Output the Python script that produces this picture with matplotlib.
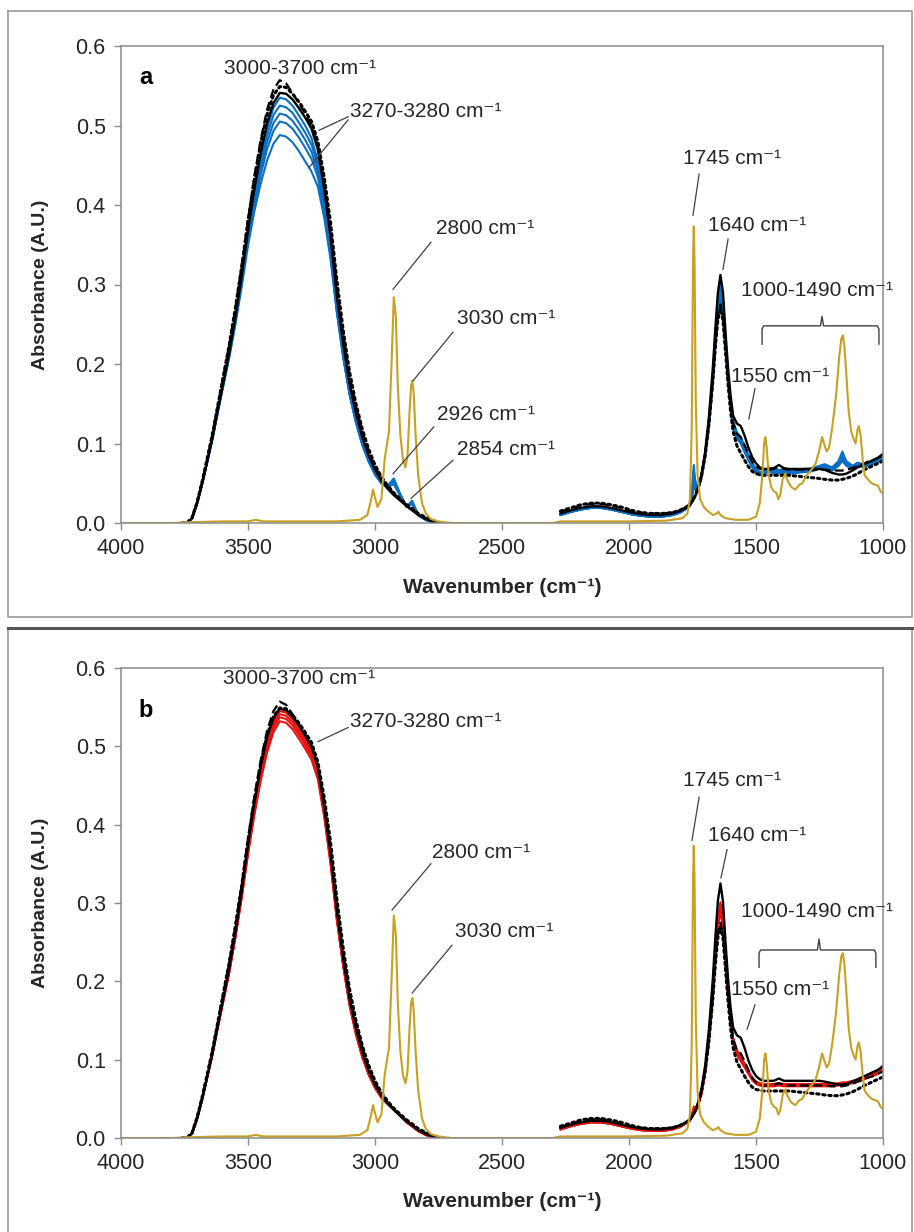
import matplotlib
matplotlib.use('Agg')
import matplotlib.pyplot as plt
from matplotlib.lines import Line2D

plt.rcParams['font.family'] = ['Liberation Sans', 'DejaVu Sans']

# ---- wavenumber grids (cm-1) ----
wn_oh = [3760, 3740, 3720, 3700, 3680, 3660, 3640, 3620, 3600, 3575, 3550, 3525, 3500, 3475,
         3450, 3425, 3400, 3375, 3350, 3325, 3300, 3275, 3250, 3225, 3200, 3175, 3150, 3125,
         3100, 3075, 3050, 3025, 3000, 2975, 2950, 2926, 2900, 2875, 2854, 2830, 2800, 2775, 2750]

wn_lo = [2270, 2230, 2190, 2150, 2110, 2070, 2030, 1990, 1950, 1910, 1870, 1830, 1800, 1775,
         1760, 1750, 1745, 1740, 1730, 1715, 1700, 1685, 1670, 1660, 1650, 1640, 1630, 1620,
         1610, 1600, 1590, 1575, 1560, 1545, 1530, 1515, 1500, 1485, 1470, 1450, 1430, 1410,
         1390, 1370, 1340, 1310, 1280, 1250, 1230, 1200, 1175, 1160, 1145, 1120, 1100, 1080,
         1060, 1040, 1020, 1000]

# ---- reference spectra (black) ----
dashed_oh = [0, 0, 0.007, 0.027, 0.053, 0.082, 0.112, 0.146, 0.180, 0.222, 0.270, 0.323, 0.382, 0.436,
             0.482, 0.520, 0.545, 0.557, 0.553, 0.541, 0.528, 0.515, 0.500, 0.475, 0.428, 0.370, 0.298, 0.236,
             0.185, 0.146, 0.115, 0.090, 0.071, 0.056, 0.045, 0.037, 0.029, 0.022, 0.017, 0.011, 0.006, 0.002, 0]
dotted_oh = [0, 0, 0.007, 0.027, 0.053, 0.082, 0.112, 0.146, 0.180, 0.222, 0.270, 0.322, 0.380, 0.432,
             0.478, 0.514, 0.538, 0.549, 0.548, 0.540, 0.530, 0.518, 0.505, 0.480, 0.435, 0.378, 0.305, 0.242,
             0.190, 0.150, 0.118, 0.093, 0.073, 0.058, 0.047, 0.038, 0.030, 0.023, 0.018, 0.012, 0.007, 0.003, 0]
dashed_lo = [0.014, 0.018, 0.022, 0.024, 0.024, 0.022, 0.019, 0.015, 0.013, 0.012, 0.012, 0.013, 0.016, 0.020,
             0.024, 0.028, 0.031, 0.034, 0.043, 0.060, 0.088, 0.128, 0.182, 0.228, 0.262, 0.275, 0.260, 0.222,
             0.183, 0.150, 0.126, 0.112, 0.108, 0.098, 0.087, 0.077, 0.071, 0.068, 0.067, 0.067, 0.068, 0.070,
             0.068, 0.067, 0.067, 0.067, 0.067, 0.067, 0.067, 0.066, 0.066, 0.066, 0.067, 0.069, 0.072, 0.074,
             0.077, 0.079, 0.082, 0.085]
dotted_lo = [0.015, 0.019, 0.023, 0.025, 0.025, 0.023, 0.020, 0.016, 0.013, 0.012, 0.012, 0.013, 0.016, 0.020,
             0.024, 0.028, 0.031, 0.034, 0.042, 0.058, 0.085, 0.125, 0.178, 0.222, 0.256, 0.270, 0.255, 0.215,
             0.175, 0.140, 0.115, 0.097, 0.088, 0.079, 0.071, 0.065, 0.062, 0.061, 0.060, 0.060, 0.060, 0.060,
             0.060, 0.060, 0.059, 0.058, 0.057, 0.056, 0.055, 0.054, 0.054, 0.055, 0.056, 0.059, 0.062, 0.066,
             0.069, 0.072, 0.075, 0.078]

# black solid, panel a
solid_a_oh = [0, 0, 0.006, 0.025, 0.050, 0.078, 0.107, 0.140, 0.172, 0.212, 0.258, 0.310, 0.368, 0.420,
              0.465, 0.503, 0.528, 0.541, 0.540, 0.533, 0.522, 0.510, 0.496, 0.470, 0.420, 0.360, 0.285, 0.225,
              0.175, 0.138, 0.108, 0.085, 0.067, 0.053, 0.043, 0.035, 0.028, 0.021, 0.016, 0.010, 0.005, 0.002, 0]
solid_a_lo = [0.012, 0.016, 0.019, 0.021, 0.021, 0.019, 0.016, 0.013, 0.011, 0.010, 0.010, 0.012, 0.015, 0.019,
              0.023, 0.027, 0.030, 0.033, 0.042, 0.060, 0.090, 0.135, 0.195, 0.245, 0.290, 0.312, 0.290, 0.240,
              0.195, 0.160, 0.135, 0.125, 0.122, 0.110, 0.095, 0.083, 0.075, 0.070, 0.068, 0.068, 0.069, 0.073,
              0.069, 0.068, 0.068, 0.068, 0.068, 0.068, 0.067, 0.063, 0.061, 0.061, 0.062, 0.066, 0.070, 0.073,
              0.076, 0.079, 0.082, 0.087]

# black solid, panel b
solid_b_oh = [0, 0, 0.006, 0.025, 0.050, 0.079, 0.108, 0.141, 0.174, 0.215, 0.262, 0.315, 0.374, 0.428,
              0.474, 0.512, 0.536, 0.548, 0.546, 0.538, 0.527, 0.514, 0.500, 0.474, 0.424, 0.364, 0.290, 0.229,
              0.178, 0.140, 0.110, 0.086, 0.068, 0.054, 0.044, 0.036, 0.028, 0.021, 0.016, 0.010, 0.005, 0.002, 0]
solid_b_lo = [0.013, 0.017, 0.020, 0.022, 0.022, 0.020, 0.017, 0.014, 0.012, 0.011, 0.011, 0.013, 0.016, 0.020,
              0.024, 0.028, 0.031, 0.034, 0.043, 0.062, 0.093, 0.140, 0.203, 0.256, 0.303, 0.325, 0.302, 0.250,
              0.203, 0.166, 0.141, 0.131, 0.128, 0.115, 0.099, 0.087, 0.079, 0.075, 0.073, 0.073, 0.073, 0.076,
              0.073, 0.073, 0.073, 0.073, 0.073, 0.073, 0.072, 0.070, 0.068, 0.068, 0.069, 0.072, 0.075, 0.078,
              0.081, 0.084, 0.087, 0.092]

# ---- sample spectra, panel a (blue) ----
blue_oh = [
    [0, 0, 0.006, 0.025, 0.050, 0.078, 0.107, 0.139, 0.171, 0.210, 0.255, 0.306, 0.362, 0.414,
     0.458, 0.496, 0.522, 0.535, 0.533, 0.525, 0.513, 0.500, 0.484, 0.455, 0.405, 0.345, 0.272, 0.213,
     0.165, 0.130, 0.101, 0.080, 0.063, 0.052, 0.047, 0.056, 0.036, 0.020, 0.028, 0.010, 0.004, 0.001, 0],
    [0, 0, 0.006, 0.025, 0.050, 0.078, 0.107, 0.139, 0.171, 0.210, 0.254, 0.305, 0.360, 0.410,
     0.452, 0.488, 0.513, 0.525, 0.523, 0.516, 0.504, 0.491, 0.476, 0.449, 0.401, 0.342, 0.270, 0.211,
     0.164, 0.129, 0.100, 0.079, 0.062, 0.051, 0.046, 0.054, 0.035, 0.020, 0.027, 0.010, 0.004, 0.001, 0],
    [0, 0, 0.006, 0.025, 0.050, 0.078, 0.107, 0.139, 0.171, 0.209, 0.253, 0.303, 0.357, 0.404,
     0.445, 0.479, 0.503, 0.515, 0.513, 0.506, 0.495, 0.482, 0.467, 0.442, 0.396, 0.339, 0.268, 0.210,
     0.163, 0.128, 0.099, 0.078, 0.062, 0.051, 0.046, 0.052, 0.035, 0.020, 0.026, 0.010, 0.004, 0.001, 0],
    [0, 0, 0.006, 0.025, 0.050, 0.078, 0.106, 0.138, 0.170, 0.208, 0.252, 0.301, 0.354, 0.399,
     0.438, 0.470, 0.493, 0.505, 0.503, 0.496, 0.485, 0.472, 0.458, 0.435, 0.391, 0.336, 0.266, 0.209,
     0.162, 0.127, 0.099, 0.078, 0.061, 0.050, 0.045, 0.050, 0.034, 0.020, 0.025, 0.010, 0.004, 0.001, 0],
    [0, 0, 0.006, 0.025, 0.050, 0.077, 0.105, 0.137, 0.168, 0.206, 0.249, 0.297, 0.349, 0.392,
     0.427, 0.456, 0.477, 0.488, 0.486, 0.479, 0.468, 0.455, 0.442, 0.423, 0.384, 0.332, 0.264, 0.208,
     0.161, 0.126, 0.098, 0.077, 0.061, 0.050, 0.045, 0.049, 0.034, 0.020, 0.024, 0.010, 0.004, 0.001, 0],
]
blue_lo = [
    [0.010, 0.014, 0.017, 0.019, 0.019, 0.017, 0.014, 0.011, 0.009, 0.008, 0.008, 0.010, 0.013, 0.018,
     0.025, 0.050, 0.073, 0.055, 0.043, 0.060, 0.088, 0.130, 0.188, 0.236, 0.280, 0.302, 0.282, 0.232,
     0.188, 0.153, 0.128, 0.114, 0.108, 0.097, 0.086, 0.076, 0.068, 0.064, 0.064, 0.070, 0.066, 0.067,
     0.066, 0.066, 0.067, 0.068, 0.069, 0.072, 0.074, 0.070, 0.078, 0.090, 0.078, 0.072, 0.076, 0.074,
     0.076, 0.078, 0.081, 0.085],
    [0.010, 0.014, 0.017, 0.019, 0.019, 0.017, 0.014, 0.011, 0.009, 0.008, 0.008, 0.010, 0.013, 0.018,
     0.024, 0.046, 0.066, 0.051, 0.042, 0.059, 0.087, 0.128, 0.185, 0.232, 0.275, 0.296, 0.277, 0.228,
     0.185, 0.151, 0.126, 0.112, 0.106, 0.095, 0.084, 0.074, 0.067, 0.063, 0.063, 0.068, 0.065, 0.066,
     0.065, 0.065, 0.066, 0.067, 0.068, 0.071, 0.073, 0.069, 0.076, 0.087, 0.076, 0.071, 0.075, 0.073,
     0.075, 0.077, 0.080, 0.084],
    [0.010, 0.014, 0.017, 0.019, 0.019, 0.017, 0.014, 0.011, 0.009, 0.008, 0.008, 0.010, 0.013, 0.018,
     0.023, 0.042, 0.060, 0.048, 0.041, 0.058, 0.086, 0.126, 0.182, 0.228, 0.270, 0.290, 0.272, 0.225,
     0.182, 0.149, 0.124, 0.110, 0.104, 0.093, 0.082, 0.073, 0.066, 0.062, 0.062, 0.067, 0.064, 0.065,
     0.064, 0.064, 0.065, 0.066, 0.067, 0.070, 0.072, 0.068, 0.075, 0.084, 0.075, 0.070, 0.074, 0.072,
     0.074, 0.076, 0.079, 0.083],
    [0.010, 0.014, 0.017, 0.019, 0.019, 0.017, 0.014, 0.011, 0.009, 0.008, 0.008, 0.010, 0.013, 0.018,
     0.022, 0.038, 0.055, 0.045, 0.040, 0.057, 0.085, 0.124, 0.179, 0.224, 0.265, 0.284, 0.267, 0.221,
     0.179, 0.147, 0.122, 0.108, 0.102, 0.091, 0.080, 0.071, 0.065, 0.061, 0.061, 0.066, 0.063, 0.064,
     0.063, 0.063, 0.064, 0.065, 0.066, 0.069, 0.071, 0.067, 0.073, 0.081, 0.073, 0.069, 0.073, 0.071,
     0.073, 0.075, 0.078, 0.082],
    [0.010, 0.014, 0.017, 0.019, 0.019, 0.017, 0.014, 0.011, 0.009, 0.008, 0.008, 0.010, 0.013, 0.018,
     0.021, 0.034, 0.050, 0.042, 0.039, 0.056, 0.084, 0.122, 0.176, 0.220, 0.260, 0.278, 0.262, 0.218,
     0.176, 0.145, 0.120, 0.106, 0.100, 0.089, 0.079, 0.070, 0.064, 0.060, 0.060, 0.065, 0.062, 0.063,
     0.062, 0.062, 0.063, 0.064, 0.065, 0.068, 0.070, 0.066, 0.072, 0.078, 0.072, 0.068, 0.072, 0.070,
     0.072, 0.074, 0.077, 0.081],
]

# ---- sample spectra, panel b (red) ----
red_oh = [
    [0, 0, 0.006, 0.025, 0.050, 0.078, 0.107, 0.140, 0.172, 0.212, 0.258, 0.310, 0.367, 0.420,
     0.466, 0.505, 0.531, 0.545, 0.543, 0.535, 0.523, 0.510, 0.495, 0.468, 0.418, 0.356, 0.282, 0.222,
     0.172, 0.135, 0.105, 0.082, 0.065, 0.052, 0.044, 0.037, 0.028, 0.020, 0.015, 0.009, 0.004, 0.001, 0],
    [0, 0, 0.006, 0.025, 0.050, 0.078, 0.107, 0.140, 0.172, 0.211, 0.257, 0.309, 0.366, 0.418,
     0.463, 0.501, 0.527, 0.541, 0.539, 0.531, 0.519, 0.506, 0.491, 0.465, 0.416, 0.354, 0.281, 0.221,
     0.171, 0.134, 0.104, 0.082, 0.065, 0.052, 0.044, 0.037, 0.028, 0.020, 0.015, 0.009, 0.004, 0.001, 0],
    [0, 0, 0.006, 0.025, 0.050, 0.078, 0.107, 0.140, 0.171, 0.210, 0.256, 0.308, 0.364, 0.415,
     0.460, 0.497, 0.523, 0.537, 0.535, 0.527, 0.515, 0.502, 0.487, 0.462, 0.413, 0.352, 0.279, 0.220,
     0.170, 0.133, 0.104, 0.081, 0.064, 0.052, 0.044, 0.036, 0.028, 0.020, 0.015, 0.009, 0.004, 0.001, 0],
    [0, 0, 0.006, 0.025, 0.050, 0.078, 0.106, 0.139, 0.170, 0.209, 0.255, 0.306, 0.362, 0.412,
     0.456, 0.492, 0.518, 0.532, 0.530, 0.522, 0.510, 0.497, 0.483, 0.458, 0.410, 0.350, 0.278, 0.219,
     0.169, 0.132, 0.103, 0.081, 0.064, 0.051, 0.043, 0.036, 0.028, 0.020, 0.015, 0.009, 0.004, 0.001, 0],
]
red_lo = [
    [0.011, 0.015, 0.018, 0.020, 0.020, 0.018, 0.015, 0.012, 0.010, 0.009, 0.009, 0.011, 0.014, 0.019,
     0.024, 0.033, 0.040, 0.037, 0.041, 0.058, 0.087, 0.130, 0.188, 0.237, 0.280, 0.301, 0.282, 0.234,
     0.190, 0.155, 0.128, 0.112, 0.104, 0.095, 0.085, 0.077, 0.072, 0.070, 0.069, 0.069, 0.069, 0.070,
     0.069, 0.069, 0.069, 0.069, 0.069, 0.069, 0.069, 0.069, 0.070, 0.071, 0.071, 0.073, 0.075, 0.077,
     0.080, 0.082, 0.085, 0.089],
    [0.011, 0.015, 0.018, 0.020, 0.020, 0.018, 0.015, 0.012, 0.010, 0.009, 0.009, 0.011, 0.014, 0.019,
     0.023, 0.031, 0.037, 0.035, 0.040, 0.057, 0.086, 0.128, 0.185, 0.233, 0.276, 0.297, 0.278, 0.231,
     0.187, 0.153, 0.126, 0.110, 0.102, 0.093, 0.084, 0.076, 0.071, 0.069, 0.068, 0.068, 0.068, 0.069,
     0.068, 0.068, 0.068, 0.068, 0.068, 0.068, 0.068, 0.068, 0.069, 0.070, 0.070, 0.072, 0.074, 0.076,
     0.079, 0.081, 0.084, 0.088],
    [0.011, 0.015, 0.018, 0.020, 0.020, 0.018, 0.015, 0.012, 0.010, 0.009, 0.009, 0.011, 0.014, 0.019,
     0.023, 0.030, 0.035, 0.034, 0.040, 0.057, 0.085, 0.126, 0.182, 0.229, 0.272, 0.293, 0.274, 0.228,
     0.185, 0.151, 0.124, 0.108, 0.100, 0.092, 0.083, 0.075, 0.070, 0.068, 0.067, 0.067, 0.067, 0.068,
     0.067, 0.067, 0.067, 0.067, 0.067, 0.067, 0.067, 0.067, 0.068, 0.069, 0.069, 0.071, 0.073, 0.075,
     0.078, 0.080, 0.083, 0.087],
    [0.011, 0.015, 0.018, 0.020, 0.020, 0.018, 0.015, 0.012, 0.010, 0.009, 0.009, 0.011, 0.014, 0.019,
     0.022, 0.029, 0.033, 0.033, 0.039, 0.056, 0.084, 0.124, 0.179, 0.225, 0.268, 0.289, 0.270, 0.225,
     0.183, 0.149, 0.122, 0.106, 0.098, 0.090, 0.082, 0.074, 0.069, 0.067, 0.066, 0.066, 0.066, 0.067,
     0.066, 0.066, 0.066, 0.066, 0.066, 0.066, 0.066, 0.066, 0.067, 0.068, 0.068, 0.070, 0.072, 0.074,
     0.077, 0.079, 0.082, 0.086],
]

# ---- pure component (gold) ----
gold_wn = [4000, 3800, 3730, 3600, 3500, 3470, 3440, 3300, 3150, 3060, 3030, 3015, 3008, 3000, 2990, 2975,
           2962, 2955, 2945, 2935, 2926, 2918, 2910, 2900, 2890, 2880, 2872, 2864, 2858, 2853, 2848,
           2840, 2830, 2815, 2800, 2780, 2750, 2700, 2300, 2270, 2000, 1850, 1790, 1770, 1760, 1753,
           1748, 1745, 1742, 1737, 1730, 1720, 1705, 1690, 1670, 1655, 1648, 1640, 1620, 1580, 1530,
           1500, 1485, 1475, 1468, 1463, 1458, 1450, 1440, 1430, 1420, 1412, 1405, 1395, 1385, 1378,
           1370, 1360, 1345, 1330, 1318, 1300, 1280, 1265, 1252, 1240, 1232, 1222, 1212, 1200, 1185,
           1172, 1164, 1158, 1152, 1145, 1135, 1125, 1115, 1108, 1100, 1095, 1088, 1080, 1072, 1060,
           1045, 1030, 1020, 1010, 1000]
gold_abs = [0, 0, 0.001, 0.002, 0.002, 0.004, 0.002, 0.002, 0.002, 0.004, 0.010, 0.030, 0.042, 0.032, 0.020, 0.030,
            0.080, 0.095, 0.115, 0.200, 0.284, 0.260, 0.170, 0.110, 0.080, 0.070, 0.085, 0.140, 0.172, 0.179, 0.165,
            0.110, 0.060, 0.025, 0.012, 0.005, 0.002, 0, 0, 0.002, 0.002, 0.003, 0.006, 0.012, 0.030, 0.120,
            0.330, 0.373, 0.330, 0.150, 0.060, 0.030, 0.020, 0.015, 0.010, 0.012, 0.014, 0.010, 0.006, 0.004, 0.004,
            0.008, 0.025, 0.060, 0.100, 0.108, 0.095, 0.060, 0.045, 0.040, 0.038, 0.030, 0.035, 0.055, 0.062, 0.055,
            0.050, 0.045, 0.042, 0.048, 0.050, 0.060, 0.068, 0.075, 0.090, 0.108, 0.100, 0.090, 0.095, 0.120, 0.160,
            0.210, 0.232, 0.236, 0.222, 0.190, 0.140, 0.115, 0.105, 0.100, 0.118, 0.122, 0.110, 0.080, 0.060, 0.055,
            0.050, 0.048, 0.047, 0.040, 0.037]

BLUE = '#0b6fc4'
RED = '#e8130f'
GOLD = '#c9a021'
INK = '#262626'
SPINE = '#8a8a8a'
SUP = ' cm\u207b\u00b9'

fig = plt.figure(figsize=(9.14, 12.32), dpi=100)

# panel frames (figure pixels -> fraction)
W, H = 914, 1232
def frame(x0, y0, x1, y1, color, lw):
    xs = [x0 / W, x1 / W, x1 / W, x0 / W, x0 / W]
    ys = [1 - y0 / H, 1 - y0 / H, 1 - y1 / H, 1 - y1 / H, 1 - y0 / H]
    fig.add_artist(Line2D(xs, ys, color=color, lw=lw, transform=fig.transFigure))

frame(8, 11, 912, 617, '#9a9a9a', 1.2)
frame(8, 628, 912, 1240, '#9a9a9a', 1.2)
fig.add_artist(Line2D([8 / W, 912 / W], [1 - 628 / H, 1 - 628 / H], color='#555555', lw=2.2,
                      transform=fig.transFigure))

ax_a = fig.add_axes([121 / W, 1 - 523 / H, 762 / W, 477 / H])
ax_b = fig.add_axes([121 / W, 1 - 1138 / H, 762 / W, 470 / H])


def style_axes(ax):
    ax.set_xlim(4000, 1000)
    ax.set_ylim(0, 0.6)
    ax.set_xticks([4000, 3500, 3000, 2500, 2000, 1500, 1000])
    ax.set_yticks([0.0, 0.1, 0.2, 0.3, 0.4, 0.5, 0.6])
    ax.set_yticklabels(['0.0', '0.1', '0.2', '0.3', '0.4', '0.5', '0.6'])
    for s in ax.spines.values():
        s.set_color(SPINE)
        s.set_linewidth(1.1)
    ax.tick_params(direction='out', length=5, width=1.0, color=SPINE, labelsize=15.5,
                   labelcolor=INK, pad=6)
    ax.set_xlabel('Wavenumber (cm\u207b\u00b9)', fontsize=15, fontweight='bold', color=INK)
    ax.set_ylabel('Absorbance (A.U.)', fontsize=14, fontweight='bold', color=INK)
    ax.xaxis.set_label_coords(0.5, -0.115)
    ax.yaxis.set_label_coords(-0.095, 0.5)


def draw_spectra(ax, samples_oh, samples_lo, color, solid_oh, solid_lo):
    for y in samples_oh:
        ax.plot(wn_oh, y, color=color, lw=1.5, solid_capstyle='round')
    for y in samples_lo:
        ax.plot(wn_lo, y, color=color, lw=1.5, solid_capstyle='round')
    ax.plot(wn_oh, solid_oh, color='black', lw=1.7)
    ax.plot(wn_lo, solid_lo, color='black', lw=1.7)
    ax.plot(wn_oh, dashed_oh, color='black', lw=1.6, ls=(0, (4, 2)))
    ax.plot(wn_lo, dashed_lo, color='black', lw=1.6, ls=(0, (4, 2)))
    ax.plot(wn_oh, dotted_oh, color='black', lw=2.2, ls=(0, (0.8, 1.2)), dash_capstyle='round')
    ax.plot(wn_lo, dotted_lo, color='black', lw=2.2, ls=(0, (0.8, 1.2)), dash_capstyle='round')
    ax.plot(gold_wn, gold_abs, color=GOLD, lw=1.5)


def label(ax, x, y, txt):
    ax.text(x, y, txt + SUP, fontsize=15, color=INK, ha='left', va='center')


def leader(ax, p0, p1):
    ax.plot([p0[0], p1[0]], [p0[1], p1[1]], color='#404040', lw=0.9)


def bracket(ax, x0, x1, xm, y, y_end, y_top):
    d = 6
    ax.plot([x0, x0, x0 - d, xm + d, xm, xm - d, x1 + d, x1, x1],
            [y_end, y - 0.004, y, y, y_top, y, y, y - 0.004, y_end], color='#404040', lw=1.0)


# ---------------- panel a ----------------
style_axes(ax_a)
draw_spectra(ax_a, blue_oh, blue_lo, BLUE, solid_a_oh, solid_a_lo)
ax_a.text(0.033, 0.935, 'a', transform=ax_a.transAxes, fontsize=17, fontweight='bold', ha='center', va='center')
label(ax_a, 3594, 0.572, '3000-3700')
label(ax_a, 3098, 0.518, '3270-3280')
leader(ax_a, (3106, 0.511), (3220, 0.494))
leader(ax_a, (3106, 0.507), (3260, 0.447))
label(ax_a, 2760, 0.370, '2800')
leader(ax_a, (2780, 0.353), (2929, 0.294))
label(ax_a, 2677, 0.257, '3030')
leader(ax_a, (2693, 0.240), (2850, 0.179))
label(ax_a, 2756, 0.136, '2926')
leader(ax_a, (2768, 0.121), (2929, 0.062))
label(ax_a, 2677, 0.093, '2854')
leader(ax_a, (2693, 0.079), (2858, 0.031))
label(ax_a, 1787, 0.459, '1745')
leader(ax_a, (1724, 0.439), (1748, 0.387))
label(ax_a, 1689, 0.374, '1640')
leader(ax_a, (1610, 0.357), (1630, 0.319))
label(ax_a, 1559, 0.293, '1000-1490')
bracket(ax_a, 1476, 1016, 1240, 0.248, 0.225, 0.260)
label(ax_a, 1598, 0.184, '1550')
leader(ax_a, (1504, 0.169), (1528, 0.131))

# ---------------- panel b ----------------
style_axes(ax_b)
draw_spectra(ax_b, red_oh, red_lo, RED, solid_b_oh, solid_b_lo)
ax_b.text(0.033, 0.91, 'b', transform=ax_b.transAxes, fontsize=17, fontweight='bold', ha='center', va='center')
label(ax_b, 3598, 0.586, '3000-3700')
label(ax_b, 3098, 0.532, '3270-3280')
leader(ax_b, (3106, 0.524), (3224, 0.506))
label(ax_b, 2776, 0.365, '2800')
leader(ax_b, (2780, 0.350), (2933, 0.291))
label(ax_b, 2685, 0.263, '3030')
leader(ax_b, (2697, 0.246), (2854, 0.185))
label(ax_b, 1787, 0.456, '1745')
leader(ax_b, (1724, 0.435), (1752, 0.380))
label(ax_b, 1689, 0.386, '1640')
leader(ax_b, (1614, 0.368), (1638, 0.332))
label(ax_b, 1559, 0.289, '1000-1490')
bracket(ax_b, 1488, 1028, 1252, 0.240, 0.218, 0.254)
label(ax_b, 1598, 0.190, '1550')
leader(ax_b, (1504, 0.170), (1535, 0.139))

fig.savefig('out.png', dpi=100)
